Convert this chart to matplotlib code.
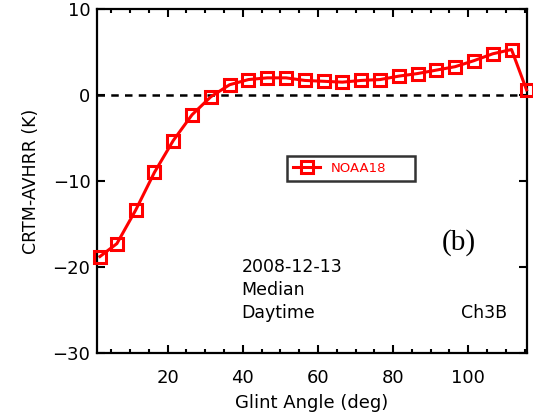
"""
Glint angle dependence of CRTM-AVHRR bias, NOAA18 Ch3B (panel b).
"""

import matplotlib
matplotlib.use("Agg")
import matplotlib.pyplot as plt
from matplotlib.ticker import MultipleLocator

# glint angle bins (deg) and median CRTM-AVHRR difference (K)
glint_angle = [2.0, 6.5, 11.5, 16.5, 21.5, 26.5, 31.5, 36.5, 41.5, 46.5,
               51.5, 56.5, 61.5, 66.5, 71.5, 76.5, 81.5, 86.5, 91.5, 96.5,
               101.5, 106.5, 111.5, 115.5]
bias = [-18.8, -17.3, -13.4, -9.0, -5.3, -2.3, -0.2, 1.2, 1.8, 2.0,
        2.0, 1.7, 1.6, 1.5, 1.7, 1.8, 2.2, 2.5, 2.9, 3.3,
        4.0, 4.8, 5.3, 0.6]
series_label = "NOAA18"
info_lines = ["2008-12-13", "Median", "Daytime"]
channel = "Ch3B"
panel = "(b)"


def main():
    plt.rcParams["font.family"] = ["DejaVu Sans"]

    fig = plt.figure(figsize=(5.33, 4.19), dpi=100)
    ax = fig.add_axes([0.1826, 0.1582, 0.806, 0.820])

    ax.axhline(0, color="black", linestyle=(0, (3, 2.5)), linewidth=1.8, zorder=1)
    ax.plot(glint_angle, bias, color="red", linewidth=2.2, marker="s",
            markersize=9, markerfacecolor="none", markeredgewidth=2.2,
            label=series_label, clip_on=False, zorder=3)

    ax.set_xlim(1.3, 115.6)
    ax.set_ylim(-30, 10)
    ax.xaxis.set_major_locator(MultipleLocator(20))
    ax.xaxis.set_minor_locator(MultipleLocator(5))
    ax.yaxis.set_major_locator(MultipleLocator(10))
    ax.tick_params(which="both", direction="in", top=True, right=True,
                   labelsize=13, width=1.5)
    ax.tick_params(which="major", length=5.5)
    ax.tick_params(which="minor", length=3)
    ax.tick_params(axis="x", pad=12)
    ax.tick_params(axis="y", pad=5)
    ax.set_xticks([20, 40, 60, 80, 100])
    for spine in ax.spines.values():
        spine.set_linewidth(1.6)

    ax.set_xlabel("Glint Angle (deg)", fontsize=13, labelpad=5)
    ax.set_ylabel("CRTM-AVHRR (K)", fontsize=12.5, labelpad=9)

    for i, line in enumerate(info_lines):
        ax.text(39.7, -20.0 - 2.7 * i, line, fontsize=12.5, va="center", ha="left")
    ax.text(110.2, -25.4, channel, fontsize=12.5, va="center", ha="right")
    ax.text(92.9, -17.2, panel, fontsize=21, va="center", ha="left",
            family="Liberation Serif")

    leg = ax.legend(loc="center", bbox_to_anchor=(0.441, 0.4975, 0.2986, 0.0786),
                    mode="expand", borderaxespad=0, fontsize=9.5, frameon=True,
                    fancybox=False, handlelength=2.1, handletextpad=0.75,
                    borderpad=0.45, labelcolor="red")
    leg.get_frame().set_edgecolor("black")
    leg.get_frame().set_linewidth(1.8)

    fig.savefig("out.png", dpi=100)


if __name__ == "__main__":
    main()
